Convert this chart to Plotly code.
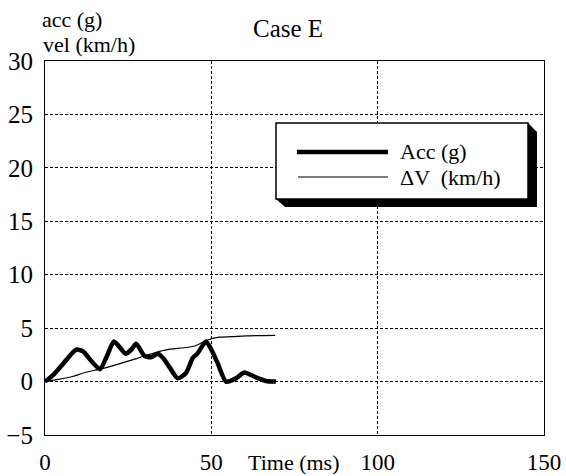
import plotly.graph_objects as go

# ---- data ----
t_acc = [0, 2.5, 6, 8, 9.5, 11.5, 14, 16.5, 18.5, 20.7, 22.5, 24.2, 26, 27.4, 29.9, 31.9,
         33.9, 35.5, 37.4, 39.9, 42.4, 44.4, 45.9, 48.4, 50, 51.9, 54.4, 57.4, 59.9, 63.4,
         66.4, 69.4]
acc_g = [0, 0.63, 1.87, 2.6, 3.0, 2.8, 1.9, 1.16, 2.3, 3.75, 3.2, 2.6, 3.0, 3.53, 2.4, 2.28,
         2.6, 2.2, 1.35, 0.3, 0.8, 2.2, 2.66, 3.75, 3.0, 1.72, 0.0, 0.3, 0.85, 0.4,
         0.06, 0.0]

t_vel = [0, 4, 8.5, 12, 16.5, 20, 24.5, 28, 31.4, 36.4, 42.4, 45.4, 48.4, 52.4, 56, 60.4, 69.2]
dv_kmh = [0, 0.2, 0.5, 0.85, 1.16, 1.45, 1.87, 2.2, 2.55, 2.97, 3.19, 3.38, 3.84, 4.16, 4.2, 4.28, 4.33]

x_ticks = [0, 50, 100, 150]
y_ticks = [-5, 0, 5, 10, 15, 20, 25, 30]

FONT = "Liberation Serif"
W, H = 566, 476
L, R, T, B = 45, 22, 61, 41
PW, PH = W - L - R, H - T - B


def PX(x):
    return (x - L) / PW


def PY(y):
    return (H - B - y) / PH


fig = go.Figure()
fig.add_trace(go.Scatter(x=t_acc, y=acc_g, mode="lines", name="Acc (g)",
                         line=dict(color="black", width=4.5, shape="spline", smoothing=0.6),
                         showlegend=False))
fig.add_trace(go.Scatter(x=t_vel, y=dv_kmh, mode="lines", name="ΔV (km/h)",
                         line=dict(color="black", width=1.2, shape="spline", smoothing=0.6),
                         showlegend=False))

axis_common = dict(showline=True, linecolor="black", linewidth=1.2, mirror=True,
                   showgrid=True, gridcolor="black", gridwidth=1, griddash="3px,2px",
                   zeroline=False, ticks="", automargin=False)

fig.update_xaxes(range=[0, 150], tickvals=x_ticks, ticklabelstandoff=6,
                 tickfont=dict(family=FONT, size=23, color="black"), **axis_common)
fig.update_yaxes(range=[-5, 30], tickvals=y_ticks, ticklabelstandoff=6,
                 tickfont=dict(family=FONT, size=25, color="black"), **axis_common)

shapes = [
    # legend shadow
    dict(type="path", xref="paper", yref="paper",
         path=f"M {PX(528)},{PY(123)} L {PX(537)},{PY(132)} L {PX(537)},{PY(207)} "
              f"L {PX(285)},{PY(207)} L {PX(276)},{PY(199)} Z",
         fillcolor="black", line=dict(width=0)),
    # legend box
    dict(type="rect", xref="paper", yref="paper",
         x0=PX(276), x1=PX(528), y0=PY(199), y1=PY(123),
         fillcolor="white", line=dict(color="black", width=1.5)),
    # legend samples
    dict(type="line", xref="paper", yref="paper", x0=PX(297), x1=PX(388), y0=PY(152), y1=PY(152),
         line=dict(color="black", width=4.5)),
    dict(type="line", xref="paper", yref="paper", x0=PX(298), x1=PX(388), y0=PY(177), y1=PY(177),
         line=dict(color="black", width=1.2)),
]

annotations = [
    dict(text="Case E", x=PX(288), y=PY(28), xref="paper", yref="paper",
         xanchor="center", yanchor="middle", showarrow=False,
         font=dict(family=FONT, size=25, color="black")),
    dict(text="acc (g)", x=PX(40), y=PY(19), xref="paper", yref="paper",
         xanchor="left", yanchor="middle", showarrow=False,
         font=dict(family=FONT, size=22, color="black")),
    dict(text="vel (km/h)", x=PX(41), y=PY(44), xref="paper", yref="paper",
         xanchor="left", yanchor="middle", showarrow=False,
         font=dict(family=FONT, size=22, color="black")),
    dict(text="Time (ms)", x=PX(293), y=PY(462), xref="paper", yref="paper",
         xanchor="center", yanchor="middle", showarrow=False,
         font=dict(family=FONT, size=22, color="black")),
    dict(text="Acc (g)", x=PX(398), y=PY(151), xref="paper", yref="paper",
         xanchor="left", yanchor="middle", showarrow=False,
         font=dict(family=FONT, size=22, color="black")),
    dict(text="ΔV  (km/h)", x=PX(398), y=PY(177), xref="paper", yref="paper",
         xanchor="left", yanchor="middle", showarrow=False,
         font=dict(family=FONT, size=22, color="black")),
]

fig.update_layout(width=W, height=H, margin=dict(l=L, r=R, t=T, b=B, pad=0),
                  plot_bgcolor="white", paper_bgcolor="white",
                  shapes=shapes, annotations=annotations, showlegend=False,
                  font=dict(family=FONT, color="black"))

fig.write_html("out.html")
